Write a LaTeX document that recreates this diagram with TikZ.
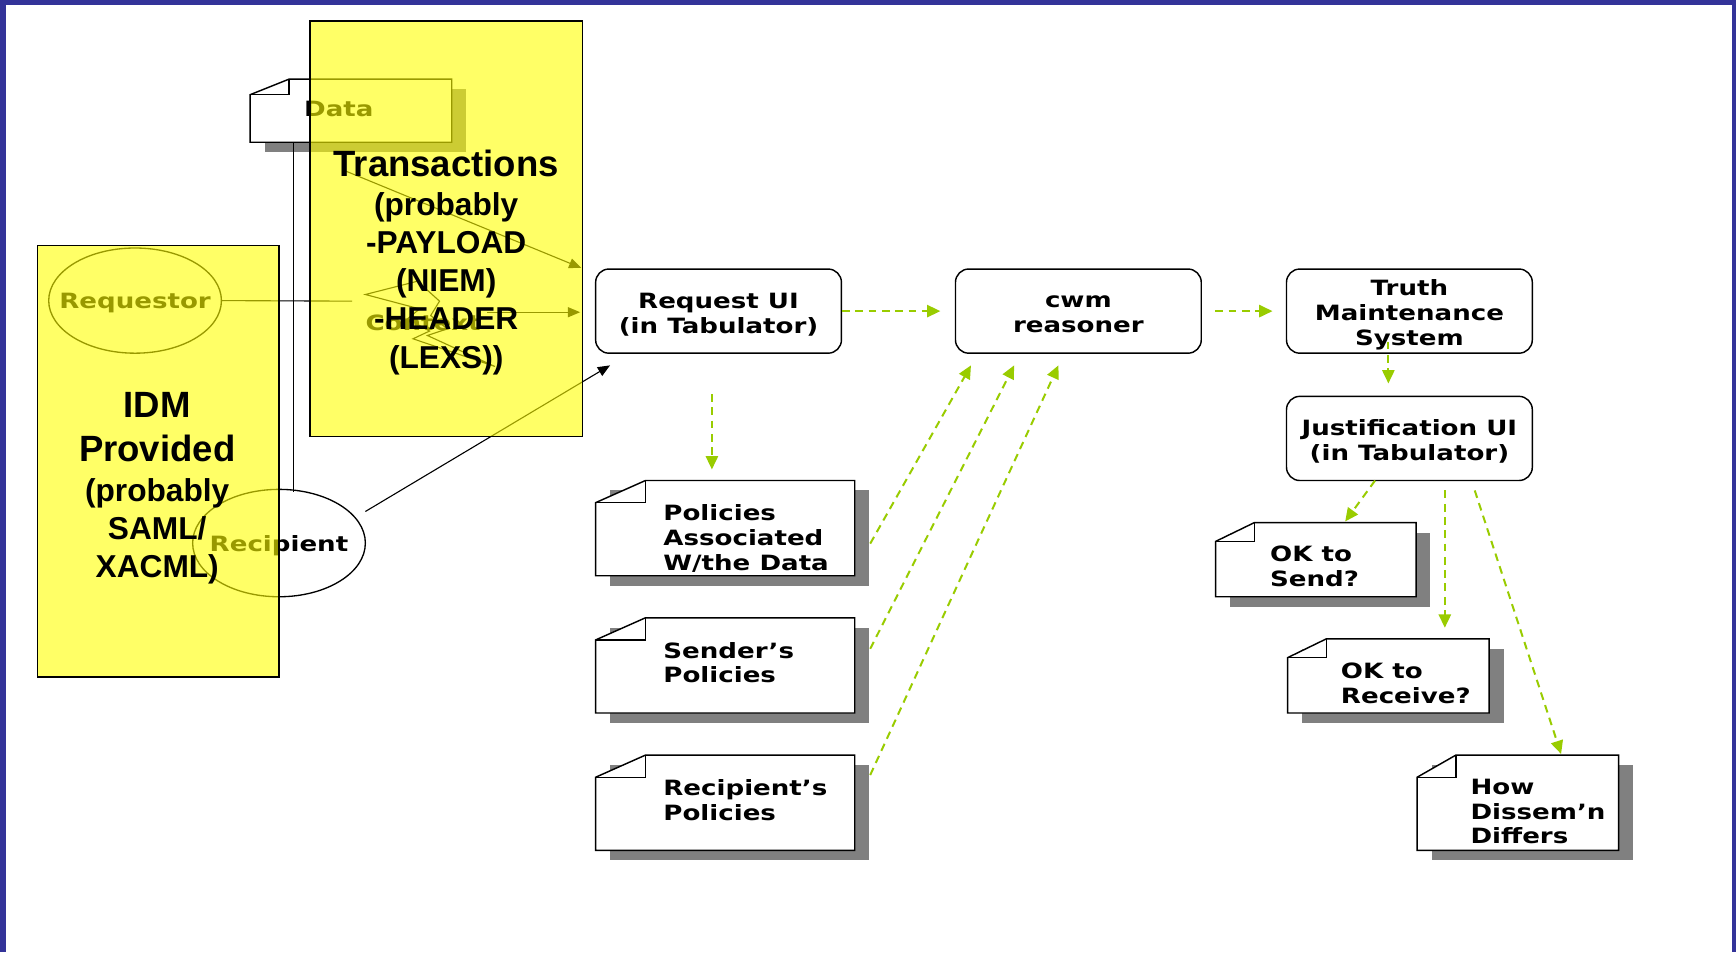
\documentclass[tikz,border=0pt]{standalone}
\usepackage{fontspec}
\usetikzlibrary{shapes.geometric,arrows.meta,calc}
\newfontfamily\vfont[FakeStretch=1.24]{DejaVu Sans}
\newfontfamily\afont{Liberation Sans}
\definecolor{ylw}{RGB}{255,255,0}
\definecolor{grn}{RGB}{153,204,0}
\definecolor{shd}{RGB}{128,128,128}
\definecolor{brd}{RGB}{51,51,153}
\newcommand\drawnote[7]{%
  \fill[shd] (#2+13,#3+9) rectangle (#4+13,#5+9);
  \filldraw[fill=white, draw=black, line width=1.3pt] (#2,#3+#7) -- (#2+#6,#3) -- (#4,#3) -- (#4,#5) -- (#2,#5) -- cycle;
  \draw[line width=1.2pt] (#2+#6,#3) -- (#2+#6,#3+#7) -- (#2,#3+#7);
  \path (#2,#3) coordinate (#1-nw) (#4,#5) coordinate (#1-se);
}
\begin{document}
\begin{tikzpicture}[x=1pt,y=-1pt,
  box/.style={draw, line width=1.3pt, rounded corners=12pt, minimum width=222pt, minimum height=76pt, inner sep=0pt},
  btxt/.style={align=center, inner sep=0pt, font=\vfont\bfseries\fontsize{19}{22.5}\selectfont},
  ntext/.style={align=left, inner sep=0pt, anchor=west, font=\vfont\bfseries\fontsize{19}{22.5}\selectfont},
  vtext/.style={inner sep=0pt, font=\vfont\bfseries\fontsize{19}{22.5}\selectfont},
  atext/.style={inner sep=0pt, anchor=base, font=\afont\bfseries\fontsize{28.6}{34}\selectfont},
  btext/.style={inner sep=0pt, anchor=base, font=\afont\bfseries\fontsize{33}{38}\selectfont},
  garr/.style={draw=grn, line width=1.8pt, dash pattern=on 7pt off 5pt, -{Triangle[length=12pt,width=11pt]}},
  karr/.style={draw=black, line width=1pt, -{Triangle[length=11pt,width=9pt]}},
  ybox/.style={draw=black, line width=1.3pt, fill=ylw, fill opacity=0.6},
  ell/.style={draw=black, line width=1.2pt, ellipse, inner sep=0pt},
]
\useasboundingbox (0,0) rectangle (1568,860);
\fill[white] (0,0) rectangle (1568,860);
% border
\fill[brd] (0,0) rectangle (1568,4.5);
\fill[brd] (0,0) rectangle (5.4,860);
\fill[brd] (1564,0) rectangle (1568,860);

% ---------- items behind the yellow boxes ----------
\drawnote{data}{226}{71.5}{408}{128.5}{35}{14}
\node[vtext] (datat) at (306,98) {Data};
\draw[line width=1.1pt] (265,128.5) coordinate (dv1) -- (265,444) coordinate (dv2);

\node[ell, minimum width=156pt, minimum height=95pt] (req) at (122,271.5) {};
\node[vtext] (reqt) at (122,274) {Requestor};
\node[ell, minimum width=156pt, minimum height=97pt] (rec) at (252,490.5) {};
\node[vtext] (rect) at (252,493) {Recipient};

\coordinate (rl) at (318,272);
\draw[line width=1pt] (req.east) -- (rl);
\draw[line width=1pt] (330,266) -- (377,254) -- (397,272) -- (389,285) -- (404,297) -- (386,303) -- (447,331)
   -- (373,306) -- (388,299) -- (368,288) -- (379,279) -- cycle;
\node[vtext, anchor=west] (ctx) at (330,291.5) {Context};
\coordinate (za) at (440,282);
\coordinate (zb) at (524,282);
\draw[karr] (za) -- (zb);
\coordinate (ta) at (311,154);
\coordinate (tb) at (525,242);
\draw[karr] (ta) -- (tb);
\coordinate (rca) at (330,462);
\coordinate (rcb) at (551,330);
\draw[karr] (rca) -- (rcb);

% ---------- yellow boxes ----------
\draw[ybox] (34,221.5) rectangle (252,611.5);
\draw[ybox] (280,19) rectangle (526,394.5);

\node[btext] (tr1) at (403,159) {Transactions};
\node[atext] (tr2) at (403,194.5) {(probably};
\node[atext] (tr3) at (403,229) {-PAYLOAD};
\node[atext] (tr4) at (403,263.5) {(NIEM)};
\node[atext] (tr5) at (403,298) {-HEADER};
\node[atext] (tr6) at (403,332.5) {(LEXS))};

\node[btext] (id1) at (142,377) {IDM};
\node[btext] (id2) at (142,417) {Provided};
\node[atext] (id3) at (142,453) {(probably};
\node[atext] (id4) at (142,487.5) {SAML/};
\node[atext] (id5) at (142,522) {XACML)};

% ---------- right part ----------
\node[box] (ru) at (649,281) {};
\node[btxt] (rut) at (649,284) {Request UI\\(in Tabulator)};
\node[box] (cwm) at (974,281) {};
\node[btxt] (cwmt) at (974,284) {cwm\\reasoner};
\node[box] (tms) at (1273,281) {};
\node[btxt] (tmst) at (1273,284.5) {Truth\\Maintenance\\System};
\node[box] (jui) at (1273,396) {};
\node[btxt] (juit) at (1273,399) {Justification UI\\(in Tabulator)};

\drawnote{pol}{538}{434}{772}{520}{45}{20}
\node[ntext] (polt) at (599,486) {Policies\\Associated\\W/the Data};
\drawnote{snd}{538}{558}{772}{644}{45}{20}
\node[ntext] (sndt) at (599,598.5) {Sender’s\\Policies};
\drawnote{rcp}{538}{682}{772}{768}{45}{20}
\node[ntext] (rcpt) at (599,722.5) {Recipient’s\\Policies};
\drawnote{oks}{1098}{472}{1279}{539}{35}{17}
\node[ntext] (okst) at (1147,511.5) {OK to\\Send?};
\drawnote{okr}{1163}{577}{1345}{644}{35}{17}
\node[ntext] (okrt) at (1211,617) {OK to\\Receive?};
\drawnote{how}{1280}{682}{1462}{768}{35}{20}
\node[ntext] (howt) at (1328,733) {How\\Dissem’n\\Differs};

\draw[garr] (ru.east) -- ($(cwm.west)+(-13,0)$);
\draw[garr] ($(cwm.east)+(12,0)$) -- ($(tms.west)+(-12,0)$);
\draw[garr] ($(tms.south)+(-19,-11)$) -- ($(jui.north)+(-19,-11)$);
\coordinate (p1) at (643,356); \coordinate (p2) at (643,424);
\draw[garr] (p1) -- (p2);
\coordinate (c1) at (877,330); \coordinate (c2) at (916,330); \coordinate (c3) at (956,330);
\coordinate (s1) at (786,491); \coordinate (s2) at (786,586); \coordinate (s3) at (786,700);
\draw[garr] (s1) -- (c1);
\draw[garr] (s2) -- (c2);
\draw[garr] (s3) -- (c3);
\coordinate (j1) at (1242,434); \coordinate (j2) at (1305,443); \coordinate (j3) at (1332,443);
\coordinate (e1) at (1215,471); \coordinate (e2) at (1305,567); \coordinate (e3) at (1410,681);
\draw[garr] (j1) -- (e1);
\draw[garr] (j2) -- (e2);
\draw[garr] (j3) -- (e3);
\end{tikzpicture}
\end{document}
